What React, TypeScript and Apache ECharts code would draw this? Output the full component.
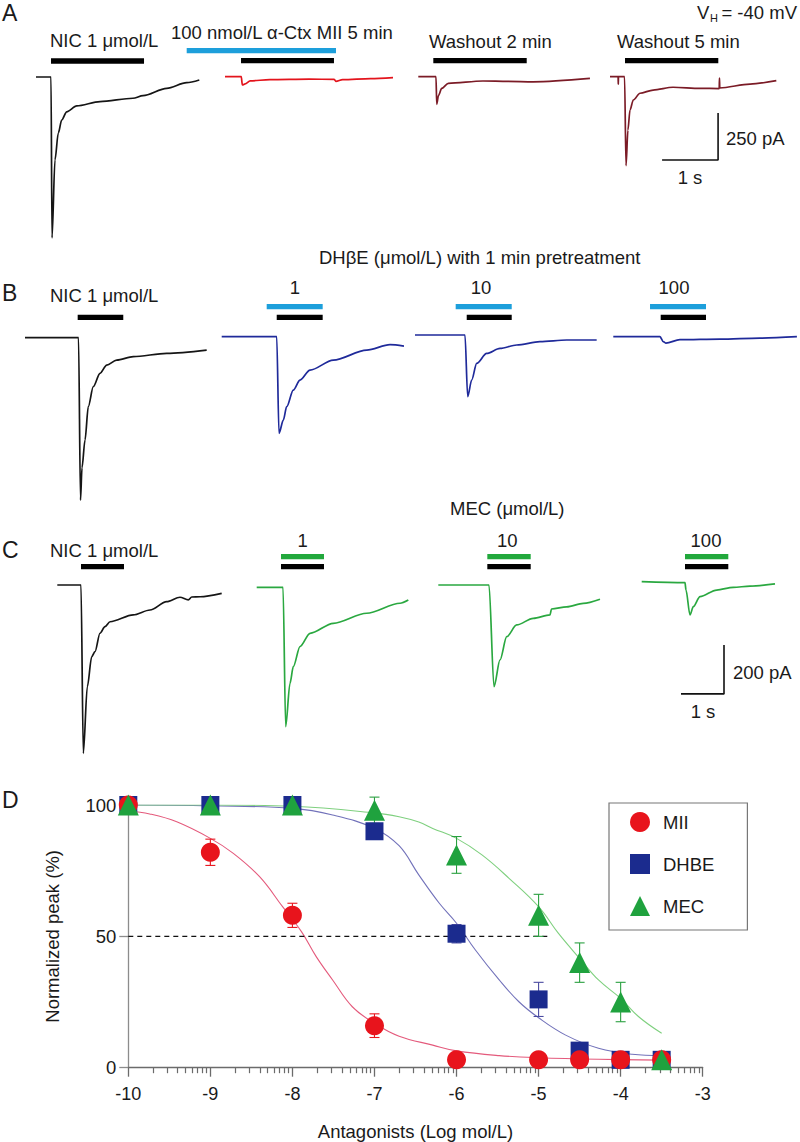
import React, { useEffect, useRef } from "react";
import * as echarts from "echarts";

type Pt = [number, number];

// ================= Panel D: concentration–response =================
const logConc = [-10, -9, -8, -7, -6, -5, -4.5, -4, -3.5];
const miiPeak = [100, 82, 58, 16, 3, 3, 3, 3, 3];
const miiSem = [0, 5, 4.6, 4.5, 0, 0, 0, 0, 0];
const dhbePeak = [100, 100, 100, 90, 51, 26, 6.5, 3, 3];
const dhbeSem = [0, 0, 0, 0, 3.5, 6.5, 0, 0, 0];
const mecPeak = [100, 100, 100, 98, 81, 58, 40, 25, 3];
const mecSem = [0, 0, 0, 5, 7, 8, 7.5, 7.5, 0];

// fitted curves
const miiFitX = [-10, -9.74, -9.41, -9, -8.72, -8.4, -8.12, -7.89, -7.71, -7.51, -7.27, -7, -6.7, -6.29, -6, -5.48, -5, -4.27, -3.5];
const miiFitY = [97.8, 96.6, 93.6, 87.3, 81.6, 72.7, 61.3, 51.8, 42.3, 33.4, 23.2, 16.9, 12, 8.6, 6.4, 4.6, 3.8, 3.2, 2.9];
const dhbeFitX = [-10, -9, -8, -7.51, -7, -6.7, -6.46, -6.21, -6, -5.77, -5.48, -5.24, -5, -4.67, -4.27, -3.86, -3.5];
const dhbeFitY = [100, 99.7, 98.7, 96.2, 91.1, 84.5, 73.4, 62.6, 55, 44.8, 33.4, 25.1, 19, 12.4, 7.4, 5.1, 4.6];
const mecFitX = [-10, -9, -8, -7, -6.7, -6.46, -6.29, -6, -5.69, -5.36, -5, -4.76, -4.5, -4.27, -4, -3.78, -3.5];
const mecFitY = [100, 100, 99.5, 97, 95.5, 93.5, 91.1, 87.3, 81, 72.1, 61.3, 51.2, 41.6, 33.4, 26.4, 19.4, 13.1];

const halfLine = { from: -10, to: -4.88, level: 50 };
const decadeMultipliers = [2, 3, 4, 5, 6, 7, 8, 9];

// ================= Panels A–C: current traces (time s, current pA) =================
const tA1: Pt[] = [[0, 0], [0.268, 0], [0.286, -856], [0.339, -441], [0.398, -298], [0.459, -229], [0.548, -185], [0.727, -154], [1.143, -131], [1.732, -113], [1.911, -99], [2.334, -60], [2.691, -30], [2.916, -16]];
const tA2: Pt[] = [[0, 0], [0.29, 0], [0.31, -44], [0.36, -38], [0.45, -22], [0.8, -16], [1.5, -13], [1.95, -14], [1.98, -25], [2.1, -16], [2.6, -10], [3.0, -5]];
const tA3: Pt[] = [[0, 0], [0.316, 0], [0.329, -147], [0.36, -100], [0.418, -62], [0.536, -35], [1.155, -23], [1.6, -25], [2.05, -27], [3.065, -9]];
const tA4: Pt[] = [[0, 0], [0.145, 0], [0.148, -40], [0.151, 0], [0.26, 0], [0.286, -473], [0.32, -284], [0.357, -177], [0.416, -124], [0.536, -88], [0.77, -71], [1.125, -56], [1.61, -62], [1.95, -63], [1.955, -7], [1.96, -60], [2.5, -39], [2.97, -21]];

const tB1: Pt[] = [[0, 0], [0.892, 0], [0.925, -812], [0.95, -650], [1.0, -512], [1.055, -345], [1.138, -245], [1.25, -178], [1.362, -137], [1.528, -112], [1.805, -95], [2.362, -78], [3.028, -62]];
const tB2: Pt[] = [[0, 0], [0.917, 0], [0.955, -483], [1.027, -417], [1.083, -350], [1.193, -267], [1.305, -217], [1.472, -167], [1.86, -117], [2.417, -67], [2.805, -40], [3.038, -47]];
const tB3: Pt[] = [[0, 0], [0.833, 0], [0.878, -308], [0.945, -225], [1.028, -142], [1.195, -92], [1.417, -67], [1.695, -50], [2.083, -33], [2.528, -25], [3.028, -25]];
const tB4: Pt[] = [[0, 0], [0.778, 0], [0.833, -25], [0.878, -32], [1.11, -15], [1.78, -12], [2.44, -7], [3.06, 0]];

const tC1: Pt[] = [[0, 0], [0.551, 0], [0.605, -687], [0.698, -415], [0.8, -293], [0.877, -272], [0.993, -197], [1.109, -170], [1.226, -150], [1.767, -122], [2.156, -102], [2.544, -68], [2.853, -50], [3.047, -61], [3.126, -49], [3.319, -48], [3.823, -34]];
const tC2: Pt[] = [[0, 0], [0.612, 0], [0.674, -569], [0.774, -392], [0.851, -324], [1.007, -242], [1.24, -188], [1.781, -147], [2.558, -106], [3.333, -65], [3.526, -52]];
const tC3: Pt[] = [[0, 0], [1.179, 0], [1.295, -415], [1.435, -306], [1.591, -211], [1.823, -163], [2.209, -136], [2.598, -122], [2.633, -98], [2.986, -89], [3.372, -75], [3.76, -58]];
const tC4: Pt[] = [[0, 0], [1.007, -4], [1.03, -34], [1.123, -136], [1.2, -102], [1.356, -61], [1.744, -34], [2.13, -23], [2.519, -18], [3.1, -9]];

// drug application bars (s)
const barsA1 = [{ drug: "NIC", start: 0.268, end: 1.929 }];
const barsA2 = [{ drug: "MII", start: -0.684, end: 1.982 }, { drug: "NIC", start: 0.286, end: 1.946 }];
const barsA3 = [{ drug: "NIC", start: 0.268, end: 1.936 }];
const barsA4 = [{ drug: "NIC", start: 0.268, end: 1.934 }];
const barsB1 = [{ drug: "NIC", start: 0.878, end: 1.638 }];
const barsB2 = [{ drug: "DHBE", start: 0.75, end: 1.683 }, { drug: "NIC", start: 0.917, end: 1.683 }];
const barsB3 = [{ drug: "DHBE", start: 0.678, end: 1.612 }, { drug: "NIC", start: 0.862, end: 1.612 }];
const barsB4 = [{ drug: "DHBE", start: 0.612, end: 1.545 }, { drug: "NIC", start: 0.79, end: 1.545 }];
const barsC1 = [{ drug: "NIC", start: 0.551, end: 1.551 }];
const barsC2 = [{ drug: "MEC", start: 0.565, end: 1.565 }, { drug: "NIC", start: 0.565, end: 1.565 }];
const barsC3 = [{ drug: "MEC", start: 1.14, end: 2.149 }, { drug: "NIC", start: 1.14, end: 2.149 }];
const barsC4 = [{ drug: "MEC", start: 1.007, end: 2.014 }, { drug: "NIC", start: 1.007, end: 2.014 }];

const scaleA = { seconds: 1, pA: 250 };
const scaleC = { seconds: 1, pA: 200 };

// ================= styling / layout =================
const FF = '"Liberation Sans", Arial, Helvetica, sans-serif';
const BLACK = "#151515";
const RED_TRACE = "#e3141c";
const MAROON = "#7b1b26";
const BLUE_TRACE = "#1f2a9a";
const GREEN_TRACE = "#2aa840";
const DRUG_COLOR: Record<string, string> = { NIC: "#000000", MII: "#1d9fdb", DHBE: "#1d9fdb", MEC: "#22a83c" };
const C_MII = "#e8141c";
const C_DHBE = "#1b2b8e";
const C_MEC = "#1fa23e";

const ROWS: Record<string, { pxPerS: number; pxPerPA: number; yMin: number; yMax: number }> = {
  A: { pxPerS: 56, pxPerPA: 0.188, yMin: -900, yMax: 160 },
  B: { pxPerS: 60, pxPerPA: 0.2, yMin: -850, yMax: 170 },
  C: { pxPerS: 43, pxPerPA: 0.245, yMin: -720, yMax: 140 },
};
const X_MIN = -1;
const X_MAX = 4.2;

const TRACES = [
  { data: tA1, bars: barsA1, color: BLACK, row: "A", left: 36, base: 77, lifts: [16] },
  { data: tA2, bars: barsA2, color: RED_TRACE, row: "A", left: 225, base: 76.7, lifts: [26, 16] },
  { data: tA3, bars: barsA3, color: MAROON, row: "A", left: 418.3, base: 76.7, lifts: [16] },
  { data: tA4, bars: barsA4, color: MAROON, row: "A", left: 610, base: 76.7, lifts: [16] },
  { data: tB1, bars: barsB1, color: BLACK, row: "B", left: 25, base: 337.7, lifts: [20.4] },
  { data: tB2, bars: barsB2, color: BLUE_TRACE, row: "B", left: 221.7, base: 336.7, lifts: [30, 19.4] },
  { data: tB3, bars: barsB3, color: BLUE_TRACE, row: "B", left: 415, base: 335, lifts: [28.3, 17.7] },
  { data: tB4, bars: barsB4, color: BLUE_TRACE, row: "B", left: 613.3, base: 336.7, lifts: [30, 19.4] },
  { data: tC1, bars: barsC1, color: BLACK, row: "C", left: 57.3, base: 585, lifts: [18.3] },
  { data: tC2, bars: barsC2, color: GREEN_TRACE, row: "C", left: 256.7, base: 587.3, lifts: [30.6, 20.6] },
  { data: tC3, bars: barsC3, color: GREEN_TRACE, row: "C", left: 438.3, base: 585, lifts: [28.3, 18.3] },
  { data: tC4, bars: barsC4, color: GREEN_TRACE, row: "C", left: 641.7, base: 581.7, lifts: [25, 15] },
];
// scale bar corners (trace index, corner time, corner current)
const SCALE_BARS = [
  { trace: 3, t: 1.93, i: -443, size: scaleA },
  { trace: 11, t: 1.914, i: -458, size: scaleC },
];

const TEXTS: { t: string; x: number; y: number; a?: string; s?: number }[] = [
  { t: "A", x: 2, y: 13, s: 23 },
  { t: "NIC 1 μmol/L", x: 50, y: 40 },
  { t: "100 nmol/L α-Ctx MII 5 min", x: 171, y: 32 },
  { t: "V", x: 697, y: 12 },
  { t: "H", x: 710, y: 18, s: 11 },
  { t: "= -40 mV", x: 797, y: 12, a: "right" },
  { t: "Washout 2 min", x: 429, y: 41.7 },
  { t: "Washout 5 min", x: 617, y: 41.7 },
  { t: "250 pA", x: 726, y: 138 },
  { t: "1 s", x: 690, y: 177, a: "center" },
  { t: "DHβE (μmol/L) with 1 min pretreatment", x: 319, y: 257 },
  { t: "B", x: 2, y: 293, s: 23 },
  { t: "NIC 1 μmol/L", x: 50, y: 295 },
  { t: "1", x: 295, y: 287, a: "center" },
  { t: "10", x: 481, y: 287, a: "center" },
  { t: "100", x: 674, y: 287, a: "center" },
  { t: "MEC (μmol/L)", x: 450, y: 508 },
  { t: "C", x: 2, y: 550, s: 23 },
  { t: "NIC 1 μmol/L", x: 50, y: 550 },
  { t: "1", x: 302.7, y: 540, a: "center" },
  { t: "10", x: 507.3, y: 540, a: "center" },
  { t: "100", x: 706, y: 540, a: "center" },
  { t: "200 pA", x: 733, y: 672 },
  { t: "1 s", x: 703, y: 711, a: "center" },
  { t: "D", x: 2, y: 800, s: 23 },
];

function zip(xs: number[], ys: number[]): Pt[] {
  return xs.map((x, i) => [x, ys[i]]);
}
function errData(means: number[], sems: number[]) {
  const out: number[][] = [];
  logConc.forEach((x, i) => {
    if (sems[i] > 0) out.push([x, means[i] - sems[i], means[i] + sems[i]]);
  });
  return out;
}

function buildOption() {
  const grids: any[] = [];
  const xAxes: any[] = [];
  const yAxes: any[] = [];
  const series: any[] = [];
  const FS = 18.5;

  // ---------- Panel D ----------
  grids.push({ left: 128.3, top: 805, width: 574.4, height: 262.7, containLabel: false, outerBoundsMode: "none" });
  const minorTicks: number[] = [];
  for (let d = -10; d < -3; d++) decadeMultipliers.forEach((m) => minorTicks.push(d + Math.log10(m)));
  xAxes.push({
    gridIndex: 0, type: "value", min: -10, max: -3, interval: 1, position: "bottom",
    axisLine: { show: true, onZero: false, lineStyle: { color: "#6b6b6b", width: 1.3 } },
    axisTick: { show: true, length: 9, lineStyle: { color: "#6b6b6b", width: 1.3 } },
    axisLabel: { fontSize: 18, color: "#1a1a1a", fontFamily: FF, margin: 17 },
    splitLine: { show: false },
    name: "Antagonists (Log mol/L)", nameLocation: "middle", nameGap: 54,
    nameTextStyle: { fontSize: FS, color: "#1a1a1a", fontFamily: FF },
  });
  xAxes.push({
    gridIndex: 0, type: "value", min: -10, max: -3, position: "bottom",
    axisLine: { show: false, onZero: false },
    axisTick: { show: true, length: 5.5, customValues: minorTicks, lineStyle: { color: "#6b6b6b", width: 1.2 } },
    axisLabel: { show: false },
    splitLine: { show: false },
  });
  yAxes.push({
    gridIndex: 0, type: "value", min: 0, max: 100, interval: 50,
    axisLine: { show: true, lineStyle: { color: "#8c8c8c", width: 1.3 } },
    axisTick: { show: true, length: 9, lineStyle: { color: "#8c8c8c", width: 1.3 } },
    axisLabel: { fontSize: FS, color: "#1a1a1a", fontFamily: FF, margin: 12 },
    splitLine: { show: false },
    name: "Normalized peak (%)", nameLocation: "middle", nameGap: 66, nameRotate: 90,
    nameTextStyle: { fontSize: FS, color: "#1a1a1a", fontFamily: FF },
  });

  const fitLine = (data: Pt[], color: string, name: string) => ({
    type: "line", name, xAxisIndex: 0, yAxisIndex: 0, data, symbol: "none", smooth: 0.4,
    lineStyle: { color, width: 1.1 }, z: 2, silent: true,
  });
  series.push(fitLine(zip(miiFitX, miiFitY), "#e45a7c", "MII fit"));
  series.push(fitLine(zip(dhbeFitX, dhbeFitY), "#7272ba", "DHBE fit"));
  series.push(fitLine(zip(mecFitX, mecFitY), "#7fd07f", "MEC fit"));
  series.push({
    type: "line", xAxisIndex: 0, yAxisIndex: 0, symbol: "none",
    data: [[halfLine.from, halfLine.level], [halfLine.to, halfLine.level]],
    lineStyle: { color: "#111", width: 1.4, type: [5, 4] }, z: 2, silent: true,
  });

  const errSeries = (data: number[][], color: string) => ({
    type: "custom", xAxisIndex: 0, yAxisIndex: 0, data, z: 3, silent: true,
    renderItem: (_p: any, api: any) => {
      const x = api.value(0);
      const top = api.coord([x, api.value(2)]);
      const bot = api.coord([x, api.value(1)]);
      const hw = 5;
      const st = { stroke: color, lineWidth: 1.1 };
      return {
        type: "group",
        children: [
          { type: "line", shape: { x1: top[0], y1: top[1], x2: bot[0], y2: bot[1] }, style: st },
          { type: "line", shape: { x1: top[0] - hw, y1: top[1], x2: top[0] + hw, y2: top[1] }, style: st },
          { type: "line", shape: { x1: bot[0] - hw, y1: bot[1], x2: bot[0] + hw, y2: bot[1] }, style: st },
        ],
      };
    },
  });
  series.push(errSeries(errData(miiPeak, miiSem), C_MII));
  series.push(errSeries(errData(dhbePeak, dhbeSem), "#4a4aa0"));
  series.push(errSeries(errData(mecPeak, mecSem), "#2aa040"));

  const scatter = (name: string, ys: number[], symbol: string, size: number, color: string, z: number) => ({
    type: "scatter", name, xAxisIndex: 0, yAxisIndex: 0, data: zip(logConc, ys),
    symbol, symbolSize: size, itemStyle: { color, opacity: 1 }, z,
  });
  series.push(scatter("DHBE", dhbePeak, "rect", 18, C_DHBE, 5));
  series.push(scatter("MII", miiPeak, "circle", 19, C_MII, 6));
  series.push(scatter("MEC", mecPeak, "triangle", 21, C_MEC, 7));

  // ---------- Traces ----------
  TRACES.forEach((tr, k) => {
    const r = ROWS[tr.row];
    const gi = k + 1;
    const xi = k + 2;
    grids.push({
      left: tr.left + X_MIN * r.pxPerS,
      top: tr.base - r.yMax * r.pxPerPA,
      width: (X_MAX - X_MIN) * r.pxPerS,
      height: (r.yMax - r.yMin) * r.pxPerPA,
      containLabel: false, outerBoundsMode: "none",
    });
    xAxes.push({ gridIndex: gi, type: "value", min: X_MIN, max: X_MAX, show: false });
    yAxes.push({ gridIndex: gi, type: "value", min: r.yMin, max: r.yMax, show: false });
    series.push({
      type: "line", xAxisIndex: xi, yAxisIndex: gi, data: tr.data, symbol: "none",
      smooth: 0.3, smoothMonotone: "x", lineStyle: { color: tr.color, width: 1.7 }, silent: true,
    });
    tr.bars.forEach((b, j) => {
      const lvl = tr.lifts[j] / r.pxPerPA;
      series.push({
        type: "line", xAxisIndex: xi, yAxisIndex: gi, symbol: "none", silent: true,
        data: [[b.start, lvl], [b.end, lvl]],
        lineStyle: { color: DRUG_COLOR[b.drug], width: 5.3, cap: "butt" },
      });
    });
  });
  SCALE_BARS.forEach((sb) => {
    series.push({
      type: "line", xAxisIndex: sb.trace + 2, yAxisIndex: sb.trace + 1, symbol: "none", silent: true,
      data: [[sb.t - sb.size.seconds, sb.i], [sb.t, sb.i], [sb.t, sb.i + sb.size.pA]],
      lineStyle: { color: "#111", width: 1.6 },
    });
  });

  const graphic = TEXTS.map((t) => ({
    type: "text", x: t.x, y: t.y, silent: true,
    style: {
      text: t.t, fontSize: t.s ?? FS, fontFamily: FF, fill: "#1a1a1a",
      align: t.a ?? "left", textAlign: t.a ?? "left",
      verticalAlign: "middle", textVerticalAlign: "middle",
    },
  }));

  return {
    animation: false,
    backgroundColor: "#ffffff",
    textStyle: { fontFamily: FF },
    grid: grids,
    xAxis: xAxes,
    yAxis: yAxes,
    legend: {
      data: [
        { name: "MII", icon: "circle" },
        { name: "DHBE", icon: "rect" },
        { name: "MEC", icon: "triangle" },
      ],
      orient: "vertical", left: 609, top: 803,
      itemWidth: 20, itemHeight: 20, itemGap: 22,
      padding: [9, 33, 14, 21],
      borderColor: "#777", borderWidth: 1.2,
      selectedMode: false,
      textStyle: { fontSize: FS, color: "#1a1a1a", fontFamily: FF, padding: [0, 0, 0, 8] },
    },
    series,
    graphic: { elements: graphic },
  };
}

export default function App() {
  const ref = useRef<HTMLDivElement>(null);
  useEffect(() => {
    if (!ref.current) return;
    const chart = echarts.init(ref.current, undefined, { renderer: "svg" });
    chart.setOption(buildOption() as any);
    return () => chart.dispose();
  }, []);
  return (
    <div
      ref={ref}
      style={{ position: "absolute", left: 0, top: 0, width: 800, height: 1142, background: "#fff" }}
    />
  );
}
